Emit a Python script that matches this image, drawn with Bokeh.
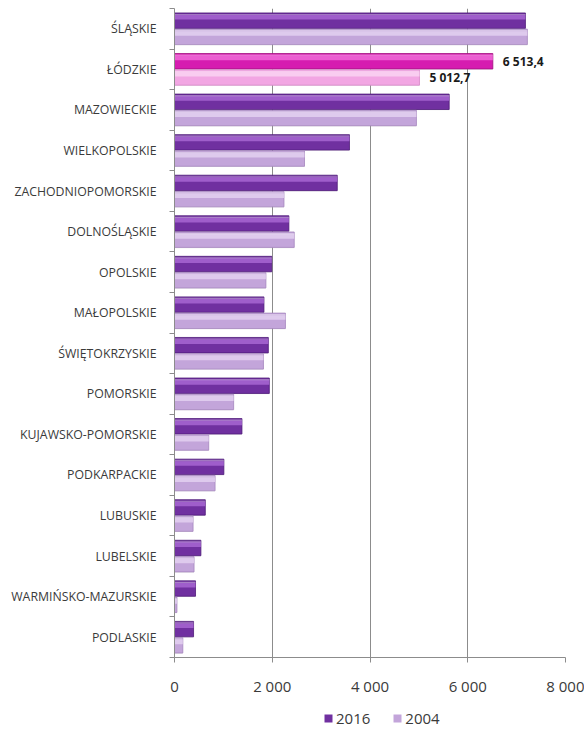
from bokeh.plotting import figure
from bokeh.models import (ColumnDataSource, Range1d, FixedTicker, Legend, LegendItem)
from bokeh.layouts import column
from bokeh.embed import file_html
from bokeh.resources import INLINE
from bokeh.core.properties import value

categories = ["ŚLĄSKIE", "ŁÓDZKIE", "MAZOWIECKIE", "WIELKOPOLSKIE", "ZACHODNIOPOMORSKIE",
              "DOLNOŚLĄSKIE", "OPOLSKIE", "MAŁOPOLSKIE", "ŚWIĘTOKRZYSKIE", "POMORSKIE",
              "KUJAWSKO-POMORSKIE", "PODKARPACKIE", "LUBUSKIE", "LUBELSKIE",
              "WARMIŃSKO-MAZURSKIE", "PODLASKIE"]
v2016 = [7180, 6513.4, 5620, 3580, 3330, 2340, 1990, 1830, 1920, 1940, 1380, 1010, 630, 540, 430, 390]
v2004 = [7220, 5012.7, 4950, 2660, 2240, 2450, 1870, 2270, 1820, 1210, 700, 830, 380, 400, 50, 170]
highlight = "ŁÓDZKIE"
x_ticks = [0, 2000, 4000, 6000, 8000]
series = ["2016", "2004"]

n = len(categories)
idx = list(range(n))
is_hl = [c == highlight for c in categories]

BAR_H = 0.38
OFF = 0.2
FONT = "Open Sans"
TXT = "#3a3a3a"
GRID = "#8C8C8C"

def fmt(v, dec):
    s = f"{v:,.{dec}f}"
    return s.replace(",", " ").replace(".", ",")

def src(vals, offset, base, light, dark, base_hl, light_hl, dark_hl):
    return ColumnDataSource(dict(
        y=[i + offset for i in idx],
        yh=[i + offset - BAR_H * 0.22 for i in idx],
        yt=[i + offset - BAR_H * 0.40 for i in idx],
        yb=[i + offset + BAR_H * 0.40 for i in idx],
        x=vals,
        base=[base_hl if h else base for h in is_hl],
        light=[light_hl if h else light for h in is_hl],
        dark=[dark_hl if h else dark for h in is_hl],
    ))

PAL = {"2016": ("#7030A0", "#A766D2", "#4E1A78", "#D61CB0", "#F06AD8", "#A0107F"),
       "2004": ("#C3A5DA", "#E3D0F0", "#A585BE", "#F2A6E3", "#FAD4F2", "#D588C6")}
s16 = src(v2016, -OFF, *PAL["2016"])
s04 = src(v2004, OFF, *PAL["2004"])

p = figure(width=584, height=700, output_backend="svg", toolbar_location=None,
           x_range=Range1d(0, 8000), y_range=Range1d(n - 0.5, -0.5),
           min_border_left=174, min_border_right=19, min_border_top=8, min_border_bottom=43)
p.outline_line_color = None
p.background_fill_color = "white"
p.border_fill_color = "white"

p.xgrid.ticker = FixedTicker(ticks=x_ticks)
p.xgrid.grid_line_color = GRID
p.xgrid.grid_line_width = 1
p.ygrid.grid_line_color = None

for s in (s16, s04):
    p.hbar(y="yb", right="x", left=0, height=BAR_H * 0.3, source=s,
           fill_color="#B0B0B0", fill_alpha=0.25, line_color=None)
    p.hbar(y="y", right="x", left=0, height=BAR_H, source=s,
           fill_color="base", line_color="dark", line_width=0.8)
    p.hbar(y="yh", right="x", left=0, height=BAR_H * 0.3, source=s,
           fill_color="light", fill_alpha=0.85, line_color=None)
    p.hbar(y="yt", right="x", left=0, height=BAR_H * 0.08, source=s,
           fill_color="white", fill_alpha=0.35, line_color=None)

lab_x, lab_y, lab_t = [], [], []
for i, c in enumerate(categories):
    if c == highlight:
        lab_x += [v2016[i], v2004[i]]
        lab_y += [i - OFF, i + OFF]
        lab_t += [fmt(v2016[i], 1), fmt(v2004[i], 1)]
p.text(x=lab_x, y=lab_y, text=lab_t, x_offset=10, text_baseline="middle",
       text_font=value(FONT), text_font_size="12px", text_font_style="bold",
       text_color="#1a1a1a")

xa = p.xaxis[0]
xa.ticker = FixedTicker(ticks=x_ticks)
xa.major_label_overrides = {t: fmt(t, 0) for t in x_ticks}
xa.major_label_text_font = FONT
xa.major_label_text_font_size = "15px"
xa.major_label_text_color = TXT
xa.major_label_standoff = 13
xa.axis_line_color = GRID
xa.major_tick_line_color = GRID
xa.major_tick_out = 5
xa.major_tick_in = 0
xa.minor_tick_line_color = None

ya = p.yaxis[0]
ya.ticker = FixedTicker(ticks=idx, minor_ticks=[i - 0.5 for i in range(n + 1)])
ya.major_label_overrides = {i: c for i, c in enumerate(categories)}
ya.major_label_text_font = FONT
ya.major_label_text_font_size = "12.3px"
ya.major_label_text_color = TXT
ya.major_tick_line_color = None
ya.major_label_standoff = 12
ya.minor_tick_line_color = GRID
ya.minor_tick_out = 5
ya.minor_tick_in = 0
ya.axis_line_color = GRID

# legend strip (its frame is aligned with the plot frame by the column layout)
lf = figure(width=584, height=30, output_backend="svg", toolbar_location=None,
            x_range=Range1d(0, 1), y_range=Range1d(0, 1),
            min_border_left=174, min_border_right=19, min_border_top=0, min_border_bottom=0,
            x_axis_location=None, y_axis_location=None)
lf.outline_line_color = None
lf.xgrid.grid_line_color = None
lf.ygrid.grid_line_color = None
items = []
for name in series:
    r = lf.rect(x=[-5], y=[-5], width=1, height=1, fill_color=PAL[name][0], line_color=None)
    items.append(LegendItem(label=name, renderers=[r]))
legend = Legend(items=items, orientation="horizontal", location=(149, 2),
                label_text_font=FONT, label_text_font_size="15px",
                label_text_color=TXT, glyph_width=10, glyph_height=10,
                spacing=22, label_standoff=3, padding=2, margin=0,
                border_line_color=None, background_fill_alpha=0)
lf.add_layout(legend, "center")

layout = column(p, lf, spacing=0)
open("out.html", "w").write(file_html(layout, INLINE))
